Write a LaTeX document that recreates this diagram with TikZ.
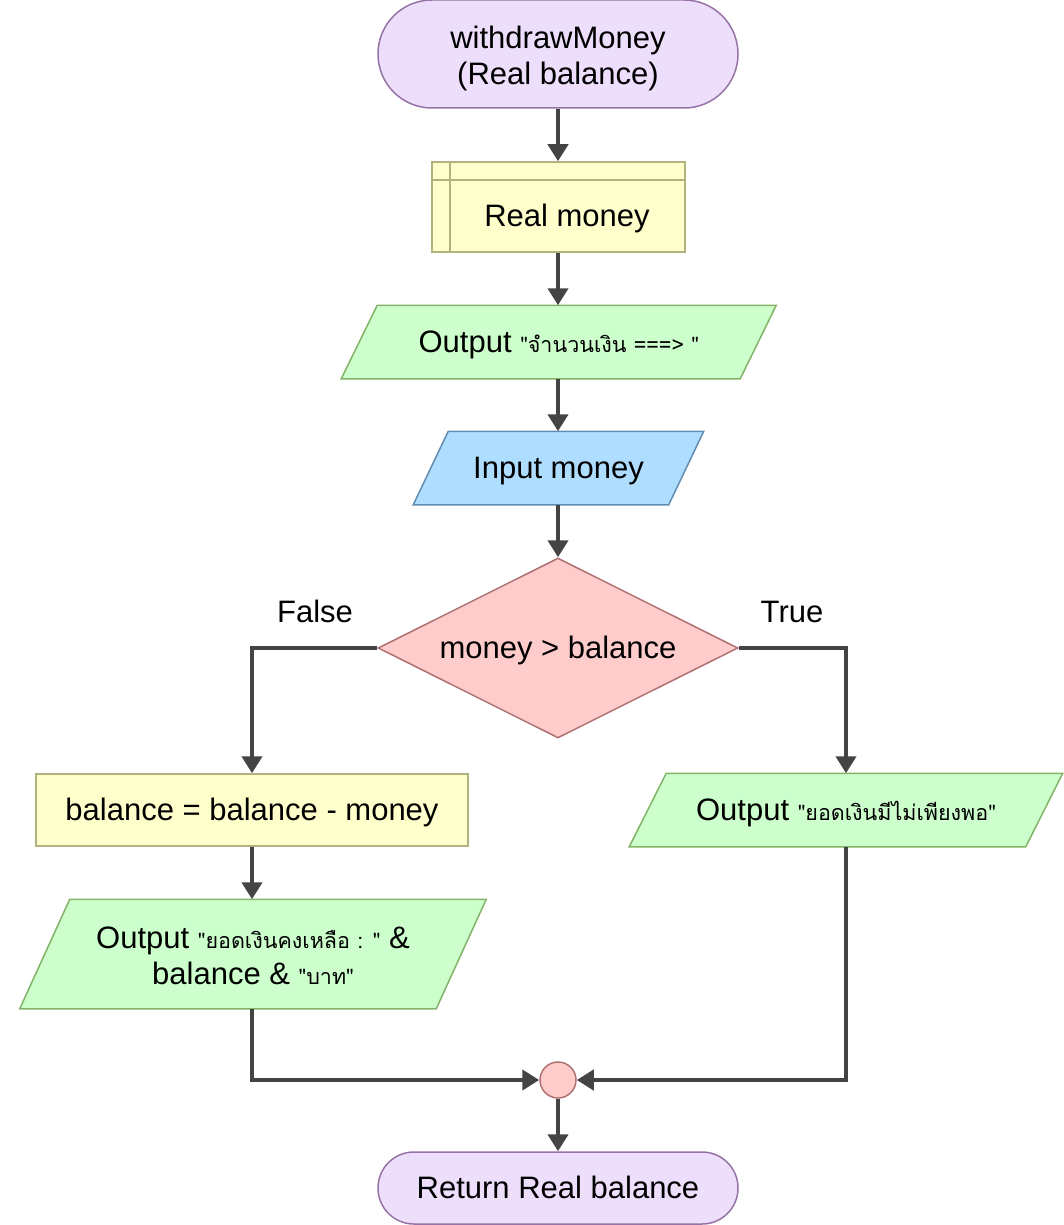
\documentclass[tikz,border=0pt]{standalone}
\usepackage{fontspec}
\setmainfont{Liberation Sans}
\newfontfamily\thaifont[Script=Thai]{Loma}
\usetikzlibrary{arrows.meta,shapes.geometric,backgrounds,calc}
\newcommand\thq[1]{{\thaifont\fontsize{21.5}{25}\selectfont #1}}
\newcommand\mystrut{\rule[-6.6pt]{0pt}{34.6pt}}
\newcommand\tallstrut{\rule{0pt}{31pt}}
\definecolor{termF}{HTML}{EDDEFC}
\definecolor{termS}{HTML}{9673A6}
\definecolor{ppF}{HTML}{FFFFCC}
\definecolor{ppS}{HTML}{B2B27F}
\definecolor{outF}{HTML}{CCFFCC}
\definecolor{outS}{HTML}{82B366}
\definecolor{inF}{HTML}{AEDDFF}
\definecolor{inS}{HTML}{628DB0}
\definecolor{decF}{HTML}{FFCCCC}
\definecolor{decS}{HTML}{B07272}
\definecolor{arrC}{HTML}{444444}
\newcommand\drawpara[4]{\draw[line width=1.5pt,fill=#3,draw=#4]
  ([xshift=#2]#1.north west) -- ([xshift=#2]#1.north east) --
  ([xshift=-#2]#1.south east) -- ([xshift=-#2]#1.south west) -- cycle;}
\tikzset{
  base/.style={font=\fontsize{31}{36}\selectfont, align=center, inner sep=0pt, line width=1.5pt,
    execute at begin node=\mystrut, execute at end node=\mystrut},
  term/.style={base, rectangle, draw=termS, fill=termF, minimum width=360pt},
  ppbox/.style={base, rectangle, draw=ppS, fill=ppF},
  iobox/.style={base, rectangle},
  decbox/.style={base, diamond, draw=decS, fill=decF, shape aspect=2, minimum width=360pt, minimum height=180pt},
  joinbox/.style={circle, draw=decS, fill=decF, line width=1.5pt, minimum size=36pt, inner sep=0pt},
  lbl/.style={font=\fontsize{31}{36}\selectfont, inner sep=0pt, execute at begin node=\mystrut},
  arr/.style={draw=arrC, line width=4.5pt, -{Triangle[length=17pt,width=20pt]}},
}
\begin{document}
\begin{tikzpicture}[x=1pt,y=-1pt]
\useasboundingbox (0,0) rectangle (1063,1225);

\node (start) [term, minimum height=108pt, rounded corners=53.9pt] at (558,54) {\tallstrut withdrawMoney\\(Real balance)};
\node (pp) [ppbox, minimum width=253pt, minimum height=90pt,
  path picture={
    \draw[draw=ppS, line width=1.5pt] ([xshift=18pt]path picture bounding box.north west) -- ([xshift=18pt]path picture bounding box.south west);
    \draw[draw=ppS, line width=1.5pt] ([yshift=-18pt]path picture bounding box.north west) -- ([yshift=-18pt]path picture bounding box.north east);
  }] at (558.5,207) {\hspace*{17pt}\raisebox{-18pt}{Real money}};
\node (o1) [iobox, minimum width=397.5pt, minimum height=72pt] at (558.75,342) {Output \thq{"จำนวนเงิน ===> "}};
\node (in) [iobox, minimum width=254pt, minimum height=72pt] at (558.5,468) {Input money};
\node (dec) [decbox] at (558,648) {money > balance};
\node (lF) [lbl] at (315,612) {False};
\node (lT) [lbl] at (792,612) {True};
\node (lp) [ppbox, minimum width=432pt, minimum height=72pt] at (252,810) {balance = balance - money};
\node (ro) [iobox, minimum width=395pt, minimum height=72pt] at (846,810) {Output \thq{"ยอดเงินมีไม่เพียงพอ"}};
\node (lo) [iobox, minimum width=415pt, minimum height=108pt] at (253,954) {\tallstrut Output \thq{"ยอดเงินคงเหลือ : "} \&\\balance \& \thq{"บาท"}};
\node (join) [joinbox] at (558,1080) {};
\node (end) [term, minimum height=72pt, rounded corners=35.9pt] at (558,1188) {Return Real balance};

\begin{scope}[on background layer]
  \drawpara{o1}{18pt}{outF}{outS}
  \drawpara{in}{17.5pt}{inF}{inS}
  \drawpara{ro}{18.5pt}{outF}{outS}
  \drawpara{lo}{25pt}{outF}{outS}
\end{scope}

\draw[arr] (start.south) -- (start.south |- pp.north);
\draw[arr] (pp.south -| start.south) -- (start.south |- o1.north);
\draw[arr] (o1.south -| start.south) -- (start.south |- in.north);
\draw[arr] (in.south -| start.south) -- (dec.north);
\draw[arr] (dec.west) -| (lp.north);
\draw[arr] (dec.east) -| (ro.north);
\draw[arr] (lp.south) -- (lp.south |- lo.north);
\draw[arr] (lo.south -| lp.south) |- (join.west);
\draw[arr] (ro.south) |- (join.east);
\draw[arr] (join.south) -- (end.north);
\end{tikzpicture}
\end{document}
